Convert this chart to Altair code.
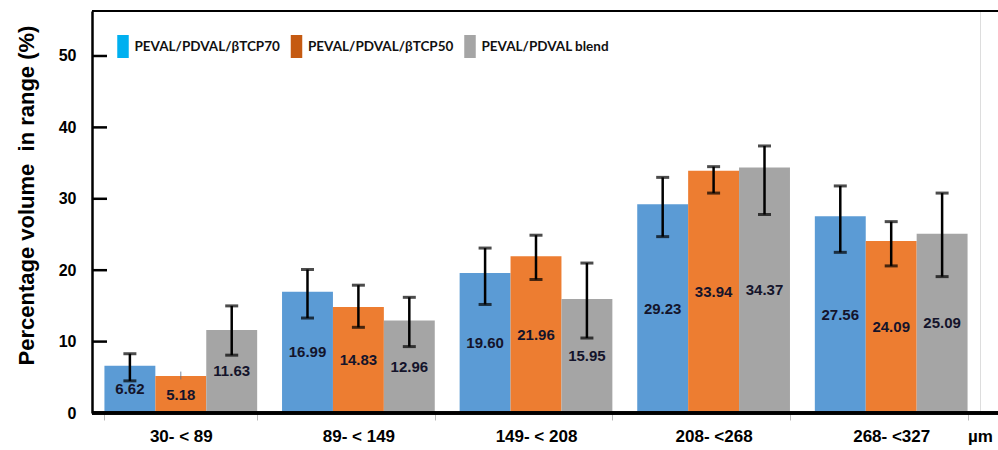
import altair as alt
import pandas as pd

# Pore-size ranges (µm) and the three scaffold series
categories = ["30- < 89", "89- < 149", "149- < 208", "208- <268", "268- <327"]
series = ["PEVAL/PDVAL/βTCP70", "PEVAL/PDVAL/βTCP50", "PEVAL/PDVAL blend"]

# Mean percentage volume in each range
tcp70 = [6.62, 16.99, 19.60, 29.23, 27.56]
tcp50 = [5.18, 14.83, 21.96, 33.94, 24.09]
blend = [11.63, 12.96, 15.95, 34.37, 25.09]

# Error bar limits (low / high)
tcp70_lo = [4.5, 13.3, 15.2, 24.7, 22.5]
tcp70_hi = [8.3, 20.1, 23.1, 33.0, 31.8]
tcp50_lo = [4.7, 12.0, 18.7, 30.8, 20.6]
tcp50_hi = [5.8, 17.9, 24.9, 34.5, 26.8]
blend_lo = [8.1, 9.3, 10.5, 27.8, 19.1]
blend_hi = [15.0, 16.2, 21.0, 37.4, 30.8]

# Which error bars are drawn with caps
tcp70_cap = [True, True, True, True, True]
tcp50_cap = [False, True, True, True, True]
blend_cap = [True, True, True, True, True]

y_ticks = [10, 20, 30, 40, 50]

bar_colors = ["#5B9BD5", "#ED7D31", "#A5A5A5"]
legend_colors = ["#00B0F0", "#C55A11", "#A5A5A5"]

rows = []
for s, vals, lo, hi, cap in [
    (series[0], tcp70, tcp70_lo, tcp70_hi, tcp70_cap),
    (series[1], tcp50, tcp50_lo, tcp50_hi, tcp50_cap),
    (series[2], blend, blend_lo, blend_hi, blend_cap),
]:
    for c, v, l, h, k in zip(categories, vals, lo, hi, cap):
        rows.append({"range": c, "series": s, "value": v, "lo": l, "hi": h,
                     "capped": k, "label": f"{v:.2f}"})
df = pd.DataFrame(rows)
ticks_df = pd.DataFrame({"v": y_ticks})

W, H = 888, 402
FONT = "Liberation Sans"
LEGEND_FONT = "Lato"

x_enc = alt.X(
    "range:N", sort=categories,
    scale=alt.Scale(paddingInner=0.14, paddingOuter=0.07),
    axis=alt.Axis(
        title="µm", titleX=W, titleY=15, titleAlign="center", titleBaseline="top",
        titleFont=FONT, titleFontSize=17, titleFontWeight="bold", titleColor="#000",
        labelAngle=0, labelFont=FONT, labelFontSize=17, labelFontWeight="bold",
        labelColor="#000", labelPadding=8, tickBand="extent", tickSize=7,
        tickColor="#BBBBBB", tickWidth=1, domain=False, grid=False,
    ),
)
xo_enc = alt.XOffset("series:N", sort=series, scale=alt.Scale(paddingInner=0, paddingOuter=0))
y_scale = alt.Scale(domain=[0, 56.3], nice=False)

base = alt.Chart(df)

bars = base.mark_bar(opacity=1).encode(
    x=x_enc,
    xOffset=xo_enc,
    y=alt.Y(
        "value:Q", scale=y_scale,
        axis=alt.Axis(
            title="Percentage volume \u00a0in range (%)", values=[0, 10, 20, 30, 40, 50],
            titleFont=FONT, titleFontSize=22, titleFontWeight="bold", titleColor="#000",
            titleX=-66, titleY=184, titleAlign="center", titleBaseline="middle", titleAngle=-90,
            labelFont=FONT, labelFontSize=16, labelFontWeight="bold", labelColor="#000",
            labelPadding=16, tickSize=0, domainColor="#000", domainWidth=2.5, grid=False,
        ),
    ),
    color=alt.Color("series:N", sort=series,
                    scale=alt.Scale(domain=series, range=bar_colors), legend=None),
)

# invisible layer that carries the legend with its own swatch colours
legend_layer = base.mark_point(filled=True, opacity=0).encode(
    x=alt.X("range:N", sort=categories),
    xOffset=xo_enc,
    y=alt.Y("value:Q", scale=y_scale),
    fill=alt.Fill(
        "series:N", sort=series,
        scale=alt.Scale(domain=series, range=legend_colors),
        legend=alt.Legend(
            title=None, orient="none", legendX=19.5, legendY=24, direction="horizontal",
            columns=3, gridAlign="all", columnPadding=4.5, padding=0,
            symbolType="M-0.5,-1H0.5V1H-0.5Z", symbolSize=529, symbolOpacity=1,
            symbolStrokeWidth=0, labelOffset=0,
            labelFont=LEGEND_FONT, labelFontSize=13.5, labelFontWeight="bold", labelColor="#111",
            labelLimit=300,
        ),
    ),
)

err = base.mark_rule(color="#000").encode(
    x=alt.X("range:N", sort=categories),
    xOffset=xo_enc,
    y=alt.Y("lo:Q", scale=y_scale),
    y2="hi:Q",
    strokeWidth=alt.condition("datum.capped", alt.value(2.5), alt.value(0.8)),
    color=alt.condition("datum.capped", alt.value("#000"), alt.value("#5A6E8A")),
)

cap_base = base.transform_filter("datum.capped")
cap_lo = cap_base.mark_tick(color="#000", thickness=3, size=13, orient="horizontal").encode(
    x=alt.X("range:N", sort=categories), xOffset=xo_enc, y=alt.Y("lo:Q", scale=y_scale))
cap_hi = cap_base.mark_tick(color="#000", thickness=3, size=13, orient="horizontal").encode(
    x=alt.X("range:N", sort=categories), xOffset=xo_enc, y=alt.Y("hi:Q", scale=y_scale))

labels = base.transform_calculate(mid="datum.value / 2").mark_text(
    font=FONT, fontSize=15, fontWeight="bold", color="#14142B", baseline="middle",
).encode(
    x=alt.X("range:N", sort=categories),
    xOffset=xo_enc,
    y=alt.Y("mid:Q", scale=y_scale),
    text="label:N",
)

# inward major ticks on the value axis
inner_ticks = alt.Chart(ticks_df).mark_rule(color="#000", strokeWidth=2.5).encode(
    y=alt.Y("v:Q", scale=y_scale), x=alt.value(0), x2=alt.value(15))

# frame: top border and category baseline
top_line = alt.Chart(ticks_df).mark_rule(color="#000", strokeWidth=2).encode(
    y=alt.value(0), x=alt.value(0), x2=alt.value(W + 18))
bottom_line = alt.Chart(ticks_df).mark_rule(color="#000", strokeWidth=3).encode(
    y=alt.value(H), x=alt.value(0), x2=alt.value(W + 18))

chart = alt.layer(
    bars, legend_layer, err, cap_lo, cap_hi, labels, inner_ticks, top_line, bottom_line
).resolve_scale(
    fill="independent"
).properties(
    width=W, height=H,
    autosize=alt.AutoSizeParams(type="none"),
    padding={"left": 92, "top": 11, "right": 18, "bottom": 37},
).configure_view(stroke=None).configure(background="#FFFFFF")

chart.save("out.html", embed_options={"renderer": "svg", "actions": False})
